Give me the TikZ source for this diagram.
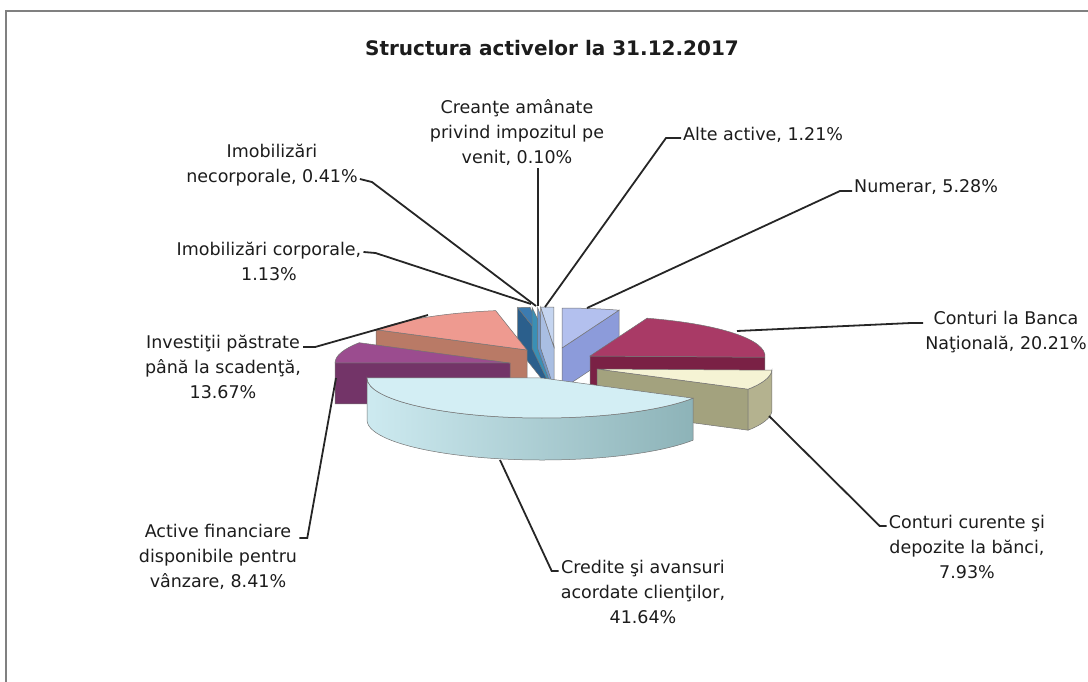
\documentclass[tikz,border=0pt]{standalone}
\usepackage{fontspec}
\setmainfont{DejaVu Sans}
\usepackage{tikz}

\definecolor{txt}{HTML}{1C1C1C}
\definecolor{numtop}{HTML}{B3C0EE}
\definecolor{numside}{HTML}{8C9BDA}
\definecolor{alttop}{HTML}{C5D5F0}
\definecolor{altside}{HTML}{A9BEE2}
\definecolor{creside}{HTML}{6D95C7}
\definecolor{necside}{HTML}{3A8FB5}
\definecolor{cortop}{HTML}{3C7BB0}
\definecolor{corside}{HTML}{2B5F8C}
\definecolor{invtop}{HTML}{EE9A90}
\definecolor{invside}{HTML}{B97A66}
\definecolor{cbntop}{HTML}{A93A66}
\definecolor{cbnside}{HTML}{7A2145}
\definecolor{afdtop}{HTML}{9B4C8F}
\definecolor{afdside}{HTML}{733468}
\definecolor{ccdtop}{HTML}{F5F3D4}
\definecolor{ccdside}{HTML}{A3A27E}
\definecolor{ccdrim}{HTML}{B4B28F}
\definecolor{credtop}{HTML}{D3EEF4}
\definecolor{credleft}{HTML}{CDEAF0}
\definecolor{credright}{HTML}{8DB3B8}

\begin{document}
\begin{tikzpicture}[x=1pt,y=1pt]
\tikzstyle{every node}+=[inner sep=2pt, text=txt, align=center, font=\fontsize{17.5}{25}\selectfont]
\tikzstyle{leader}=[line width=1.8pt, black!85]
\tikzstyle{face}=[draw=black!55, line width=0.5pt]
\useasboundingbox (0,-682) rectangle (1088,0);

% frame
\draw [gray, line width=2pt] (6,-682) -- (6,-11) -- (1088,-11);

% title
\node (title) at (552,-48) {\fontsize{20}{24}\selectfont\bfseries Structura activelor la 31.12.2017};

% small slices at the top
\filldraw [face, fill=corside] (549,-347) -- ++(100.3:175pt and 40pt) -- ++(0,-41) -- (549,-388) -- cycle;
\filldraw [face, fill=cortop] (549,-347) -- ++(96.23:175pt and 40pt) arc [start angle=96.23, end angle=100.3, x radius=175pt, y radius=40pt] -- cycle;
\filldraw [face, fill=necside] (551,-347) -- ++(96.23:175pt and 40pt) -- ++(0,-41) -- (551,-388) -- cycle;
\filldraw [face, fill=creside] (552,-347) -- ++(94.75:175pt and 40pt) -- ++(0,-41) -- (552,-388) -- cycle;
\filldraw [face, fill=altside] (554,-347) -- ++(94.39:175pt and 40pt) -- ++(0,-41) -- (554,-388) -- cycle;
\filldraw [face, fill=alttop] (554,-347) -- ++(90.04:175pt and 40pt) arc [start angle=90.04, end angle=94.39, x radius=175pt, y radius=40pt] -- cycle;

% Numerar
\filldraw [face, fill=numside] (562,-348) -- ++(70.99:175pt and 40pt) -- ++(0,-41) -- (562,-389) -- cycle;
\filldraw [face, fill=numtop] (562,-348) -- ++(70.99:175pt and 40pt) arc [start angle=70.99, end angle=90, x radius=175pt, y radius=40pt] -- cycle;

% Investitii
\filldraw [face, fill=invside] (527,-350) -- ++(149.5:175pt and 40pt) -- ++(0,-41) -- (527,-391) -- cycle;
\filldraw [face, fill=invtop] (527,-350) -- ++(100.3:175pt and 40pt) arc [start angle=100.3, end angle=149.5, x radius=175pt, y radius=40pt] -- cycle;

% Conturi la Banca Nationala
\filldraw [face, fill=cbnside] (590,-356) -- ++(-1.76:175pt and 40pt) -- ++(0,-41) -- (590,-397) -- cycle;
\filldraw [face, fill=cbntop] (590,-356) -- ++(-1.76:175pt and 40pt) arc [start angle=-1.76, end angle=70.99, x radius=175pt, y radius=40pt] -- cycle;

% Active financiare
\filldraw [face, fill=afdside] (510,-363) -- ++(179.78:175pt and 40pt) -- ++(0,-41) -- (510,-404) -- cycle;
\filldraw [face, fill=afdtop] (510,-363) -- ++(149.5:175pt and 40pt) arc [start angle=149.5, end angle=179.78, x radius=175pt, y radius=40pt] -- cycle;

% Conturi curente
\filldraw [face, fill=ccdside] (597,-369) -- ++(-30.31:175pt and 40pt) -- ++(0,-41) -- (597,-410) -- cycle;
\filldraw [face, fill=ccdrim] (597,-369) ++(-30.31:175pt and 40pt) arc [start angle=-30.31, end angle=-1.76, x radius=175pt, y radius=40pt] -- ++(0,-41) arc [start angle=-1.76, end angle=-30.31, x radius=175pt, y radius=40pt] -- cycle;
\filldraw [face, fill=ccdtop] (597,-369) -- ++(-30.31:175pt and 40pt) arc [start angle=-30.31, end angle=-1.76, x radius=175pt, y radius=40pt] -- cycle;

% Credite
\shadedraw [face, left color=credleft, right color=credright] (542,-378) ++(-180:175pt and 40pt) arc [start angle=-180, end angle=-30.31, x radius=175pt, y radius=40pt] -- ++(0,-42) arc [start angle=-30.31, end angle=-180, x radius=175pt, y radius=40pt] -- cycle;
\filldraw [face, fill=credtop] (542,-378) -- ++(-180.22:175pt and 40pt) arc [start angle=-180.22, end angle=-30.31, x radius=175pt, y radius=40pt] -- cycle;

% labels
\node (cre) at (517,-133) {Creanţe amânate\\privind impozitul pe\\venit, 0.10\%};
\node (nec) at (272,-165) {Imobilizări\\necorporale, 0.41\%};
\node (cor) at (269,-261) {Imobilizări corporale,\\1.13\%};
\node [anchor=west] (alt) at (681,-135) {Alte active, 1.21\%};
\node [anchor=west] (num) at (852,-187) {Numerar, 5.28\%};
\node (cbn) at (1006,-332) {Conturi la Banca\\Naţională, 20.21\%};
\node (inv) at (223,-367) {Investiţii păstrate\\până la scadenţă,\\13.67\%};
\node (afd) at (218,-557) {Active financiare\\disponibile pentru\\vânzare, 8.41\%};
\node (cred) at (643,-592) {Credite şi avansuri\\acordate clienţilor,\\41.64\%};
\node (ccd) at (967,-547) {Conturi curente şi\\depozite la bănci,\\7.93\%};

% leader ends
\coordinate (e-cre) at (538,-306);
\coordinate (e-nec) at (536,-306);
\coordinate (e-cor) at (531,-304);
\coordinate (e-alt) at (545,-307);
\coordinate (e-num) at (587,-308);
\coordinate (e-cbn) at (737,-331);
\coordinate (e-inv) at (428,-315);
\coordinate (e-afd) at (336,-378);
\coordinate (e-cred) at (500,-460);
\coordinate (e-ccd) at (769,-416);

% leaders
\draw [leader] (cre.south -| e-cre) -- (e-cre);
\draw [leader] ([yshift=-14pt]nec.east) -- ++(12,-3) -- (e-nec);
\draw [leader] ([yshift=9pt]cor.east) -- ++(12,-1) -- (e-cor);
\draw [leader] ([yshift=-3pt]alt.west) -- ++(-15,0) -- (e-alt);
\draw [leader] ([yshift=-4pt]num.west) -- ++(-12,0) -- (e-num);
\draw [leader] ([yshift=9pt]cbn.west) -- ++(-12,0) -- (e-cbn);
\draw [leader] ([yshift=20pt]inv.east) -- ++(12,0) -- (e-inv);
\draw [leader] ([yshift=19pt]afd.east) -- ++(8,0) -- (e-afd);
\draw [leader] ([yshift=21pt]cred.west) -- ++(-7,0) -- (e-cred);
\draw [leader] ([yshift=21pt]ccd.west) -- ++(-7,0) -- (e-ccd);
\end{tikzpicture}
\end{document}
